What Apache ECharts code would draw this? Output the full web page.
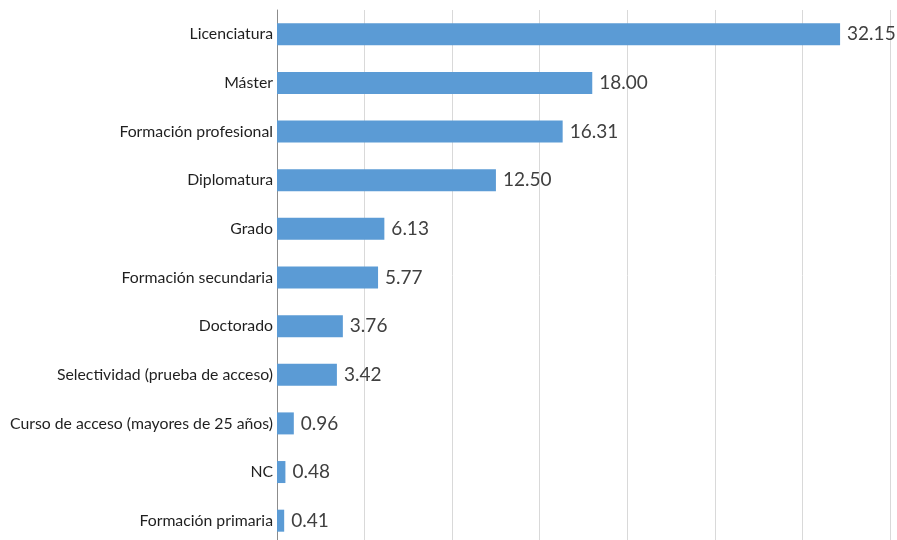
<!DOCTYPE html>
<html><head><meta charset="utf-8">
<script src="https://cdn.jsdelivr.net/npm/echarts@6/dist/echarts.min.js"></script>
<style>html,body{margin:0;padding:0;background:#fff}#c{width:897px;height:540px}</style>
</head><body><div id="c"></div>
<script>
const categories = ["Licenciatura","Máster","Formación profesional","Diplomatura","Grado","Formación secundaria","Doctorado","Selectividad (prueba de acceso)","Curso de acceso (mayores de 25 años)","NC","Formación primaria"];
const values = [32.15,18.00,16.31,12.50,6.13,5.77,3.76,3.42,0.96,0.48,0.41];
const xTicks = {min:0,max:35,interval:5};

const chart = echarts.init(document.getElementById('c'));
chart.setOption({
  animation:false,
  grid:{left:277,right:7,top:10,height:535,containLabel:false,outerBoundsMode:'none'},
  xAxis:{type:'value',min:xTicks.min,max:xTicks.max,interval:xTicks.interval,
    axisLabel:{show:false},axisLine:{show:false},axisTick:{show:false},
    splitLine:{show:true,lineStyle:{color:'#d9d9d9',width:1}}},
  yAxis:{type:'category',data:categories,inverse:true,
    axisLine:{show:true,lineStyle:{color:'#8c8c8c',width:1}},axisTick:{show:false},
    axisLabel:{color:'#1f1f1f',fontSize:15.8,fontFamily:'Lato, "Open Sans", sans-serif',margin:4}},
  series:[{type:'bar',data:values,barWidth:22,
    itemStyle:{color:'#5b9bd5'},
    label:{show:true,position:'right',distance:7,color:'#404040',fontSize:19,
      fontFamily:'Lato, "Open Sans", sans-serif',formatter:p=>p.value.toFixed(2)}}]
});
</script></body></html>
